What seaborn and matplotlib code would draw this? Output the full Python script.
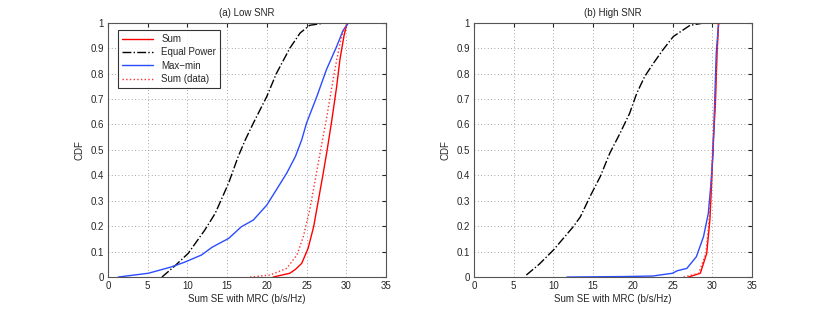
import numpy as np
import pandas as pd
import seaborn as sns
import matplotlib.pyplot as plt

# CDF levels and the SE values
# (a) Low SNR
lo_sum_p = [0, 0.015, 0.03, 0.054, 0.113, 0.198, 0.303, 0.408, 0.5, 0.62, 0.75, 0.854, 0.946, 1.0]
lo_sum_x = [20.8, 22.9, 23.6, 24.4, 25.2, 25.9, 26.5, 27.1, 27.6, 28.2, 28.8, 29.2, 29.7, 30.1]

lo_eq_p = [0, 0.043, 0.093, 0.185, 0.25, 0.37, 0.474, 0.54, 0.605, 0.71, 0.80, 0.90, 0.96, 0.99, 1.0]
lo_eq_x = [6.8, 8.4, 10.1, 12.2, 13.5, 15.2, 16.4, 17.3, 18.3, 20.0, 21.2, 22.9, 24.2, 25.4, 27.5]

lo_mm_p = [0, 0.015, 0.04, 0.059, 0.087, 0.117, 0.152, 0.198, 0.224, 0.283, 0.343, 0.408,
           0.474, 0.54, 0.605, 0.71, 0.815, 0.907, 0.97, 1.0]
lo_mm_x = [1.3, 5.1, 8.0, 9.7, 11.8, 13.1, 15.2, 16.8, 18.3, 20.0, 21.2, 22.5,
           23.6, 24.4, 25.0, 26.3, 27.5, 28.8, 29.6, 30.3]

lo_dat_p = [0, 0.008, 0.034, 0.087, 0.159, 0.264, 0.382, 0.487, 0.62, 0.75, 0.854, 0.946, 1.0]
lo_dat_x = [17.9, 20.4, 22.5, 23.8, 24.6, 25.4, 26.1, 26.7, 27.5, 28.2, 28.8, 29.4, 30.1]

# (b) High SNR
hi_sum_p = [0, 0.015, 0.093, 0.224, 0.355, 0.513, 0.684, 0.88, 1.0]
hi_sum_x = [27.0, 28.5, 29.3, 29.7, 29.9, 30.1, 30.4, 30.6, 30.8]

hi_eq_p = [0.008, 0.05, 0.106, 0.198, 0.237, 0.316, 0.395, 0.487, 0.566, 0.644, 0.723,
           0.789, 0.841, 0.894, 0.946, 0.99, 1.0]
hi_eq_x = [6.6, 8.2, 10.0, 12.5, 13.4, 14.6, 15.9, 17.1, 18.4, 19.6, 20.5,
           21.5, 22.6, 23.8, 25.1, 27.2, 29.1]

hi_mm_p = [0, 0.002, 0.004, 0.015, 0.025, 0.034, 0.08, 0.159, 0.25, 0.355, 0.487, 0.684, 0.88, 1.0]
hi_mm_x = [11.7, 18.8, 22.5, 25.0, 25.6, 26.8, 28.0, 28.9, 29.5, 29.8, 30.1, 30.3, 30.5, 30.8]

hi_dat_p = [0, 0.015, 0.093, 0.224, 0.355, 0.513, 0.684, 0.88, 1.0]
hi_dat_x = [26.4, 28.3, 29.2, 29.6, 29.85, 30.05, 30.35, 30.6, 30.8]

titles = ['(a) Low SNR', '(b) High SNR']
labels = ['Sum', 'Equal Power', 'Max\u2212min', 'Sum (data)']
colors = ['#ff0000', '#000000', '#2a4cff', '#ff3030']
styles = ['-', '-.', '-', ':']

panels = [
    [(lo_sum_x, lo_sum_p), (lo_eq_x, lo_eq_p), (lo_mm_x, lo_mm_p), (lo_dat_x, lo_dat_p)],
    [(hi_sum_x, hi_sum_p), (hi_eq_x, hi_eq_p), (hi_mm_x, hi_mm_p), (hi_dat_x, hi_dat_p)],
]

sns.set_style('white')
plt.rcParams['font.family'] = ['Liberation Sans', 'DejaVu Sans']
plt.rcParams['font.size'] = 7

fig = plt.figure(figsize=(8.3, 3.12), dpi=100)
axes = [fig.add_axes([0.130, 0.112, 0.335, 0.815]),
        fig.add_axes([0.571, 0.112, 0.335, 0.815])]

for k, ax in enumerate(axes):
    for (xs, ps), lab, c, ls in zip(panels[k], labels, colors, styles):
        df = pd.DataFrame({'x': xs, 'p': ps})
        sns.lineplot(data=df, x='x', y='p', ax=ax, color=c, linestyle=ls,
                     linewidth=1.0, label=lab, estimator=None, legend=False)
    ax.set_xlim(0, 35)
    ax.set_ylim(0, 1)
    ax.set_xticks(np.arange(0, 36, 5))
    ax.set_yticks(np.arange(0, 1.01, 0.1))
    ax.set_yticklabels(['0'] + ['%.1f' % v for v in np.arange(0.1, 0.95, 0.1)] + ['1'])
    ax.grid(True, linestyle=(0, (1, 3)), color='#888888', linewidth=0.6)
    ax.tick_params(direction='in', length=3, top=True, right=True, labelsize=7, pad=3)
    for s in ax.spines.values():
        s.set_color('#555555')
        s.set_linewidth(0.8)
    ax.set_xlabel('Sum SE with MRC (b/s/Hz)', fontsize=7, labelpad=2)
    ax.set_ylabel('CDF', fontsize=7, labelpad=4)
    ax.set_title(titles[k], fontsize=7, pad=5)

leg = axes[0].legend(loc='upper left', fontsize=7, frameon=True, fancybox=False,
                     edgecolor='black', handlelength=3.2, borderpad=0.4,
                     labelspacing=0.35, bbox_to_anchor=(0.02, 0.99))
leg.get_frame().set_linewidth(0.8)

fig.savefig('out.png', dpi=100, facecolor='white')
